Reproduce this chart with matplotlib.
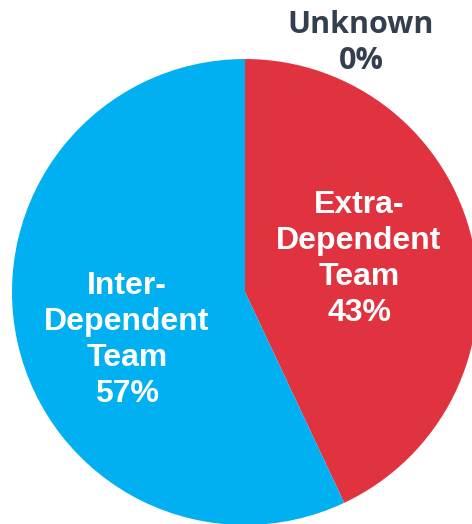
import matplotlib
matplotlib.use("Agg")
import matplotlib.pyplot as plt

# data
categories = ["Extra-\nDependent\nTeam", "Inter-\nDependent\nTeam", "Unknown"]
values = [43, 57, 0]
colors = ["#E0333F", "#00B0F0", "#FFFFFF"]

W, H = 472, 524
fig = plt.figure(figsize=(W / 100, H / 100), dpi=100)

# pie center (245, 292) px from top-left, radius 233 px
cx, cy, r = 245, 292, 233
ax = fig.add_axes([(cx - r) / W, (H - cy - r) / H, 2 * r / W, 2 * r / H])
ax.pie(values, colors=colors, startangle=90, counterclock=False,
       radius=1, wedgeprops=dict(linewidth=0))
ax.set_xlim(-1, 1)
ax.set_ylim(-1, 1)
ax.set_aspect("equal")
ax.axis("off")

def px(x, y):
    return x / W, 1 - y / H

label_pos = [(359, 259), (127, 340), (361, 43)]
for i, (cat, v) in enumerate(zip(categories, values)):
    x, y = px(*label_pos[i])
    if v > 0:
        fig.text(x, y, f"{cat}\n{v}%", ha="center", va="center", color="white",
                 fontsize=23, fontweight="bold", family="Liberation Sans",
                 linespacing=1.26)
    else:
        fig.text(x, y, f"{cat}\n{v}%", ha="center", va="center", color="#333F4F",
                 fontsize=22, fontweight="bold", family="Open Sans",
                 linespacing=1.3)

fig.savefig("out.png", dpi=100)
